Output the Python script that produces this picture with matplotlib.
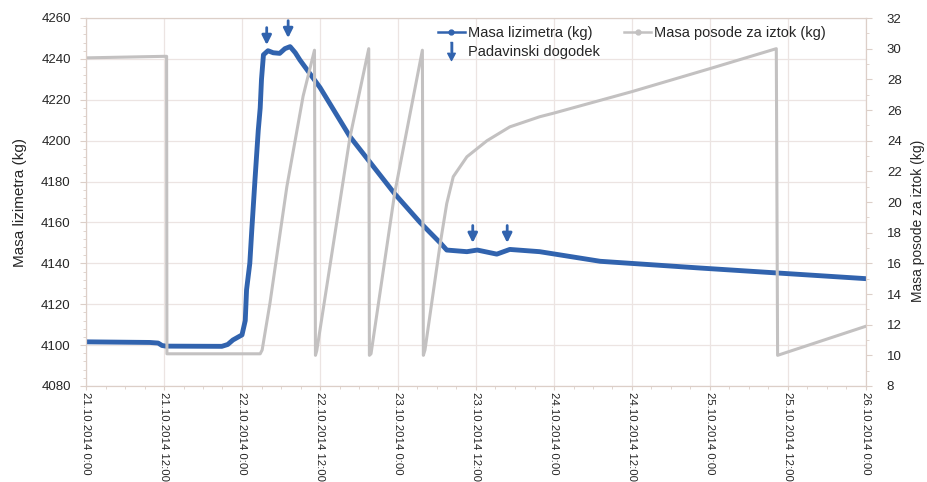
import matplotlib
matplotlib.use('Agg')
import matplotlib.pyplot as plt
from matplotlib.lines import Line2D
from matplotlib.ticker import AutoMinorLocator

plt.rcParams['font.family'] = ['Liberation Sans', 'DejaVu Sans']

# hours from 21.10.2014 0:00
hours_lizimeter = [0, 9.8, 11.1, 11.7, 12.3, 20.9, 21.8, 22.6, 24.0, 24.5, 24.7, 25.2,
                   25.5, 26.0, 26.5, 26.8, 27.0, 27.3, 28.0, 28.8, 29.8, 30.6, 31.4,
                   32.2, 32.9, 36.0, 40.6, 47.5, 51.4, 54.5, 55.5, 58.6, 60.2, 63.2,
                   65.2, 69.8, 79.1, 94.5, 120]
mass_lizimeter = [4101.6, 4101.3, 4101.0, 4099.8, 4099.5, 4099.4, 4100.3, 4102.5, 4105,
                  4112, 4127, 4140, 4156, 4181, 4205, 4216, 4230, 4242, 4244, 4243,
                  4242.7, 4245, 4246, 4243, 4239.5, 4226, 4202, 4174, 4160, 4150,
                  4146.5, 4145.7, 4146.5, 4144.5, 4146.8, 4145.7, 4141, 4137.7, 4132.5]

hours_posoda = [0, 12.0, 12.4, 12.45, 26.8, 27.1, 28.3, 30.9, 33.4, 35.15, 35.3, 35.5,
                40.6, 43.5, 43.6, 43.85, 47.5, 51.75, 51.9, 52.15, 54.5, 55.5, 56.5,
                58.6, 61.7, 65.2, 69.8, 72.0, 84.0, 96.0, 106.2, 106.4, 120]
mass_posoda = [29.4, 29.5, 29.5, 10.1, 10.1, 10.35, 13.4, 21.0, 26.9, 29.9, 10.0, 10.3,
               24.2, 30.0, 10.0, 10.1, 20.6, 29.9, 10.0, 10.35, 17.3, 19.9, 21.65,
               22.95, 24.0, 24.9, 25.56, 25.8, 27.2, 28.7, 30.0, 10.0, 11.9]

event_hours = [27.8, 31.1, 59.5, 64.8]
event_tip = [4246.8, 4250.2, 4150.0, 4150.0]

tick_hours = [0, 12, 24, 36, 48, 60, 72, 84, 96, 108, 120]
tick_labels = ['21.10.2014 0:00', '21.10.2014 12:00', '22.10.2014 0:00', '22.10.2014 12:00',
               '23.10.2014 0:00', '23.10.2014 12:00', '24.10.2014 0:00', '24.10.2014 12:00',
               '25.10.2014 0:00', '25.10.2014 12:00', '26.10.2014 0:00']

blue = '#3163ae'
gray = '#c3c1c1'
axis_col = '#dccfc8'
txt = '#262626'

fig = plt.figure(figsize=(9.28, 4.82), dpi=100)
ax = fig.add_axes([86 / 928, 1 - 386 / 482, 780 / 928, 368 / 482])
ax2 = ax.twinx()

ax.plot(hours_lizimeter, mass_lizimeter, color=blue, lw=3.5, solid_joinstyle='round')
ax2.plot(hours_posoda, mass_posoda, color=gray, lw=2.2)

for t, tip in zip(event_hours, event_tip):
    ax.annotate('', xy=(t, tip), xytext=(t, tip + 8.5),
                arrowprops=dict(arrowstyle='-|>', color=blue, lw=2, mutation_scale=14,
                                shrinkA=0, shrinkB=0))

ax.set_xlim(0, 120)
ax.set_ylim(4080, 4260)
ax.set_yticks(range(4080, 4261, 20))
ax2.set_ylim(8, 32)
ax2.set_yticks(range(8, 33, 2))
ax.set_xticks(tick_hours)
ax.set_xticklabels(tick_labels, rotation=-90, fontsize=8.2, color=txt)
ax.xaxis.set_minor_locator(AutoMinorLocator(4))
ax.yaxis.set_minor_locator(AutoMinorLocator(5))
ax2.yaxis.set_minor_locator(AutoMinorLocator(2))

ax.grid(True, which='major', color='#ece4e2', lw=0.9)
ax.set_axisbelow(True)
for a in (ax, ax2):
    for s in a.spines.values():
        s.set_color(axis_col)
ax.tick_params(axis='x', length=3, color=axis_col, pad=1)
ax.tick_params(axis='y', length=4, color=axis_col, pad=7, labelsize=9.5, labelcolor=txt)
ax.tick_params(which='minor', length=2.5, color=axis_col)
ax2.tick_params(axis='y', length=4, color=axis_col, pad=11, labelsize=9.5, labelcolor=txt)
ax2.tick_params(which='minor', length=2.5, color=axis_col)

ax.set_ylabel('Masa lizimetra (kg)', fontsize=11, color=txt)
ax.yaxis.set_label_coords(-0.076, 0.5)
ax2.set_ylabel('Masa posode za iztok (kg)', fontsize=10, color=txt)
ax2.yaxis.set_label_coords(1.058, 0.45)

arrow_marker = [(-0.12, 1), (0.12, 1), (0.12, -0.2), (0.42, -0.2), (0, -1),
                (-0.42, -0.2), (-0.12, -0.2)]
h_blue = Line2D([], [], color=blue, lw=1.8, marker='o', ms=3.5)
h_gray = Line2D([], [], color=gray, lw=1.8, marker='o', ms=3.5)
h_arrow = Line2D([], [], color=blue, ls='none', marker=arrow_marker, ms=13)
ax2.legend([h_blue, h_arrow, h_gray],
           ['Masa lizimetra (kg)', 'Padavinski dogodek', 'Masa posode za iztok (kg)'],
           ncol=2, loc='upper left', bbox_to_anchor=(0.4436, 0.995), borderaxespad=0,
           frameon=False, fontsize=10.5, handlelength=1.85, columnspacing=1.7,
           handletextpad=0.2, labelspacing=0.35, numpoints=1, labelcolor=txt)

fig.savefig('out.png', dpi=100)
